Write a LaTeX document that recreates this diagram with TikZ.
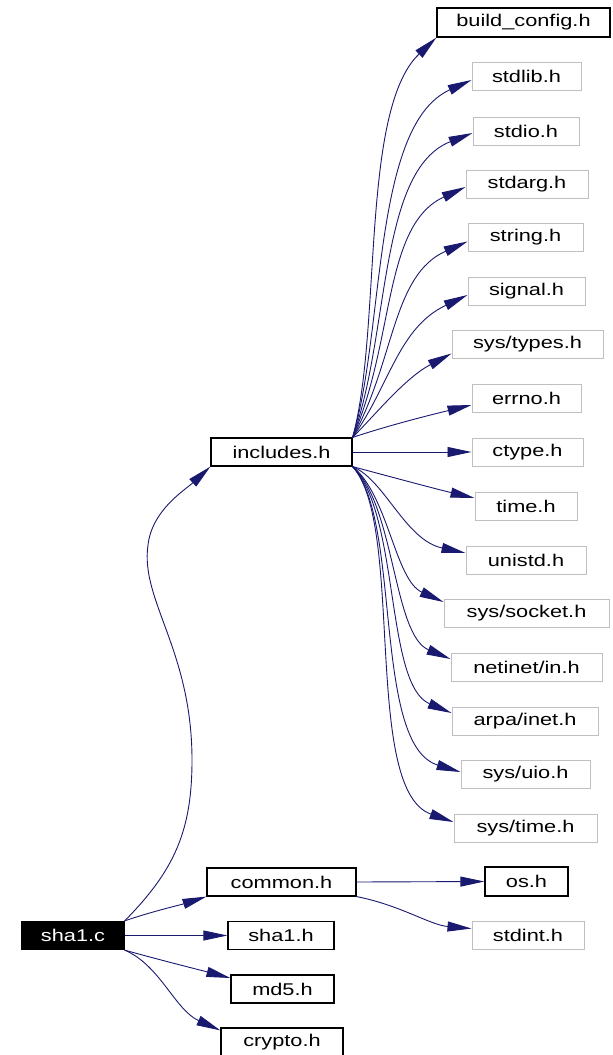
\documentclass[tikz,border=0pt]{standalone}
\usepackage{fontspec}
\setmainfont{Liberation Sans}[FakeStretch=1.28]
\usetikzlibrary{arrows.meta,calc}
\definecolor{edgeblue}{HTML}{191970}
\definecolor{undoc}{HTML}{BFBFBF}
\begin{document}
\begin{tikzpicture}[x=1pt,y=-1pt,
  box/.style={draw=black,line width=1.2pt,inner sep=0pt,minimum height=28pt,
    font=\fontsize{17}{17}\selectfont},
  ext/.style={box,draw=undoc,line width=1pt},
  self/.style={box,fill=black,text=white},
  dep/.style={draw=edgeblue,line width=0.9pt,-{Triangle[length=24pt,width=10pt]}}]
\useasboundingbox (0,0) rectangle (613,1055);

% right column: system and project headers
\node[box,minimum width=173pt,minimum height=29pt] (bc) at (523.5,22.5) {build\_config.h};
\node[ext,minimum width=109pt] (stdlib) at (526.5,76.5) {stdlib.h};
\node[ext,minimum width=106pt] (stdio) at (526,131) {stdio.h};
\node[ext,minimum width=122pt] (stdarg) at (527,184) {stdarg.h};
\node[ext,minimum width=115pt] (string) at (525.5,237.5) {string.h};
\node[ext,minimum width=117pt] (signal) at (526.5,291) {signal.h};
\node[ext,minimum width=151pt] (systypes) at (527.5,344.5) {sys/types.h};
\node[ext,minimum width=109pt] (errno) at (526.5,398) {errno.h};
\node[ext,minimum width=111pt] (ctype) at (527.5,452) {ctype.h};
\node[ext,minimum width=102pt] (time) at (526,506) {time.h};
\node[ext,minimum width=120pt] (unistd) at (526,560) {unistd.h};
\node[ext,minimum width=165pt] (socket) at (526.5,613) {sys/socket.h};
\node[ext,minimum width=151pt] (netinet) at (526.5,667) {netinet/in.h};
\node[ext,minimum width=146pt] (arpa) at (525,721) {arpa/inet.h};
\node[ext,minimum width=129pt] (uio) at (525.5,774) {sys/uio.h};
\node[ext,minimum width=143pt] (systime) at (525.5,828) {sys/time.h};
\node[box,minimum width=83pt,minimum height=29pt] (os) at (526.5,881.5) {os.h};
\node[ext,minimum width=112pt] (stdint) at (528,935.5) {stdint.h};

% middle column
\node[box,minimum width=141pt] (inc) at (281.5,452) {includes.h};
\node[box,minimum width=149pt] (common) at (281.5,882) {common.h};
\node[box,minimum width=106pt] (sha1h) at (281,935.5) {sha1.h};
\node[box,minimum width=103pt] (md5) at (282.5,989) {md5.h};
\node[box,minimum width=122pt] (crypto) at (282,1042) {crypto.h};

% the source file
\node[self,minimum width=102pt] (sha1c) at (73,935.5) {sha1.c};

% includes.h fan-out, upper half
\draw[dep] (inc.north east) .. controls (382,330) and (360,110) .. (bc.south west);
\draw[dep] (inc.north east) .. controls (385,330) and (372,125) .. ($(stdlib.west)+(0,3.5)$);
\draw[dep] (inc.north east) .. controls (390,335) and (378,170) .. ($(stdio.west)+(0,2)$);
\draw[dep] (inc.north east) .. controls (395,340) and (383,225) .. ($(stdarg.west)+(0,3)$);
\draw[dep] (inc.north east) .. controls (395,360) and (392,275) .. ($(string.west)+(0,4)$);
\draw[dep] (inc.north east) .. controls (390,385) and (398,328) .. ($(signal.west)+(0,4)$);
\draw[dep] (inc.north east) .. controls (375,415) and (405,378) .. ($(systypes.west)+(0,9)$);
\draw[dep] (inc.north east) .. controls (390,425) and (430,415) .. ($(errno.west)+(0,7)$);
% straight across
\draw[dep] (inc.east) -- (ctype.west);
% lower half
\draw[dep] (inc.south east) .. controls (395,478) and (440,490) .. ($(time.west)+(0,-8)$);
\draw[dep] (inc.south east) .. controls (385,480) and (405,540) .. ($(unistd.west)+(0,-7)$);
\draw[dep] (inc.south east) .. controls (388,495) and (395,580) .. ($(socket.west)+(0,-11)$);
\draw[dep] (inc.south east) .. controls (395,505) and (393,635) .. ($(netinet.west)+(0,-8)$);
\draw[dep] (inc.south east) .. controls (400,515) and (385,685) .. ($(arpa.west)+(0,-8)$);
\draw[dep] (inc.south east) .. controls (402,520) and (372,745) .. ($(uio.west)+(0,-2)$);
\draw[dep] (inc.south east) .. controls (405,525) and (362,790) .. ($(systime.west)+(0,-6)$);

% common.h
\draw[dep] (common.east) -- (os.west);
\draw[dep] (common.south east) .. controls (400,905) and (430,925) .. ($(stdint.west)+(0,-7)$);

% sha1.c
\draw[dep] (sha1c.north east) .. controls (175,870) and (192,830) .. (192,760)
  .. controls (192,650) and (140,600) .. (148,545)
  .. controls (152,510) and (185,490) .. (inc.south west);
\draw[dep] (sha1c.north east) .. controls (150,912) and (180,905) .. (common.south west);
\draw[dep] (sha1c.east) -- (sha1h.west);
\draw[dep] (sha1c.south east) .. controls (160,960) and (200,970) .. ($(md5.west)+(0,-11)$);
\draw[dep] (sha1c.south east) .. controls (160,965) and (175,1010) .. ($(crypto.north west)+(0,3)$);
\end{tikzpicture}
\end{document}
